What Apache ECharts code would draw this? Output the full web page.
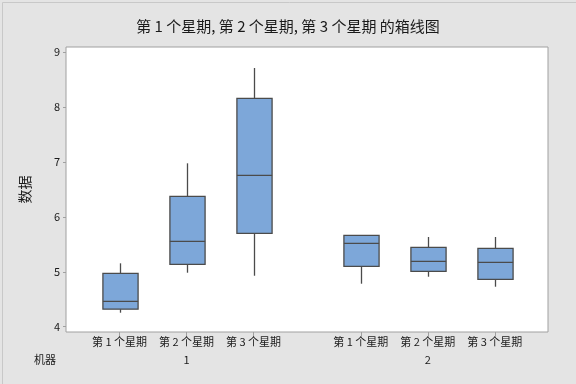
<!DOCTYPE html>
<html>
<head>
<meta charset="utf-8">
<script src="https://cdn.jsdelivr.net/npm/echarts@6/dist/echarts.min.js"></script>
<style>
html,body{margin:0;padding:0;background:#e4e4e4;}
#c{width:576px;height:384px;}
</style>
</head>
<body>
<div id="c"></div>
<script>
// ---- data ----
const titleText = '第 1 个星期, 第 2 个星期, 第 3 个星期 的箱线图';
const yName = '数据';
const groupName = '机器';
const groups = ['1', '2'];
const weeks = ['第 1 个星期', '第 2 个星期', '第 3 个星期'];
// x positions of each box (group 1: 1,2,3 ; group 2 after a wider gap)
const positions = [1, 2, 3, 4.6, 5.6, 6.6];
const groupCenters = [2, 5.6];
// [min, Q1, median, Q3, max]
const m1w1 = [4.255, 4.32, 4.46, 4.97, 5.154];
const m1w2 = [4.983, 5.136, 5.554, 6.373, 6.974];
const m1w3 = [4.928, 5.70, 6.756, 8.157, 8.709];
const m2w1 = [4.783, 5.099, 5.518, 5.664, 5.664];
const m2w2 = [4.91, 5.008, 5.19, 5.445, 5.633];
const m2w3 = [4.728, 4.863, 5.172, 5.427, 5.633];
const boxes = [m1w1, m1w2, m1w3, m2w1, m2w2, m2w3];
const yTicks = [4, 5, 6, 7, 8, 9];

// ---- chart ----
const font = '"Noto Sans CJK SC", "Noto Sans", sans-serif';
const chart = echarts.init(document.getElementById('c'));
const data = boxes.map((b, i) => [positions[i]].concat(b));
const weekLabelMap = {};
positions.forEach((p, i) => { weekLabelMap[p] = weeks[i % 3]; });
const groupLabelMap = {};
groupCenters.forEach((p, i) => { groupLabelMap[p] = groups[i]; });

const stroke = '#4b4b4b';
const fill = '#7da7d9';

chart.setOption({
  backgroundColor: '#e4e4e4',
  animation: false,
  textStyle: { fontFamily: font },
  title: {
    text: titleText, left: 'center', top: 14,
    textStyle: { fontFamily: font, fontSize: 15, fontWeight: 'normal', color: '#1a1a1a' }
  },
  graphic: [{
    type: 'rect', left: 0, top: 0, silent: true,
    shape: { x: 0.5, y: 0.5, width: 575, height: 383 },
    style: { fill: 'none', stroke: '#c8c8c8', lineWidth: 1 }
  }],
  grid: {
    left: 66, top: 47, width: 482, height: 285,
    show: true, backgroundColor: '#ffffff', borderColor: '#a0a0a0', borderWidth: 1
  },
  xAxis: [{
    type: 'value', min: 0.2, max: 7.394,
    axisLine: { show: false },
    splitLine: { show: false },
    axisTick: { show: true, length: 4, lineStyle: { color: '#a0a0a0' }, customValues: positions },
    axisLabel: {
      customValues: positions, margin: 4, fontSize: 11, color: '#1a1a1a', fontFamily: font,
      formatter: v => weekLabelMap[v] || ''
    }
  }, {
    type: 'value', min: 0.2, max: 7.394, position: 'bottom', offset: 28,
    gridIndex: 0,
    name: groupName, nameLocation: 'start', nameGap: 10,
    nameTextStyle: { fontFamily: font, fontSize: 11, color: '#1a1a1a', verticalAlign: 'middle' },
    axisLine: { show: false },
    axisTick: { show: false },
    splitLine: { show: false },
    axisLabel: {
      customValues: groupCenters, margin: 0, fontSize: 11, color: '#1a1a1a', fontFamily: font,
      verticalAlign: 'middle',
      formatter: v => groupLabelMap[v] || ''
    }
  }],
  yAxis: {
    type: 'value', min: 3.904, max: 9.091,
    name: yName, nameLocation: 'middle', nameGap: 34, nameRotate: 90,
    nameTextStyle: { fontFamily: font, fontSize: 14, color: '#1a1a1a' },
    axisLine: { show: false },
    splitLine: { show: false },
    axisTick: { show: true, length: 3, lineStyle: { color: '#a0a0a0' }, customValues: yTicks },
    axisLabel: { customValues: yTicks, margin: 6, fontSize: 11, color: '#1a1a1a', fontFamily: font }
  },
  series: [{
    type: 'custom',
    xAxisIndex: 0,
    data: data,
    encode: { x: 0, y: [1, 2, 3, 4, 5] },
    renderItem: function (params, api) {
      const x = api.value(0);
      const vals = [1, 2, 3, 4, 5].map(k => api.value(k));
      const pts = vals.map(v => api.coord([x, v]));
      const cx = Math.round(pts[0][0]) + 0.5;
      const w = api.size([1, 0])[0] * 0.525;
      const yMin = pts[0][1], yQ1 = pts[1][1], yMed = pts[2][1], yQ3 = pts[3][1], yMax = pts[4][1];
      const children = [];
      const lineStyle = { stroke: stroke, lineWidth: 1.3, fill: null };
      if (Math.abs(yMax - yQ3) > 0.5) children.push({ type: 'line', shape: { x1: cx, y1: yMax, x2: cx, y2: yQ3 }, style: lineStyle });
      if (Math.abs(yMin - yQ1) > 0.5) children.push({ type: 'line', shape: { x1: cx, y1: yQ1, x2: cx, y2: yMin }, style: lineStyle });
      children.push({ type: 'rect', shape: { x: cx - w / 2, y: yQ3, width: w, height: yQ1 - yQ3 }, style: { fill: fill, stroke: stroke, lineWidth: 1.3 } });
      children.push({ type: 'line', shape: { x1: cx - w / 2, y1: yMed, x2: cx + w / 2, y2: yMed }, style: lineStyle });
      return { type: 'group', children: children };
    }
  }]
});
</script>
</body>
</html>
